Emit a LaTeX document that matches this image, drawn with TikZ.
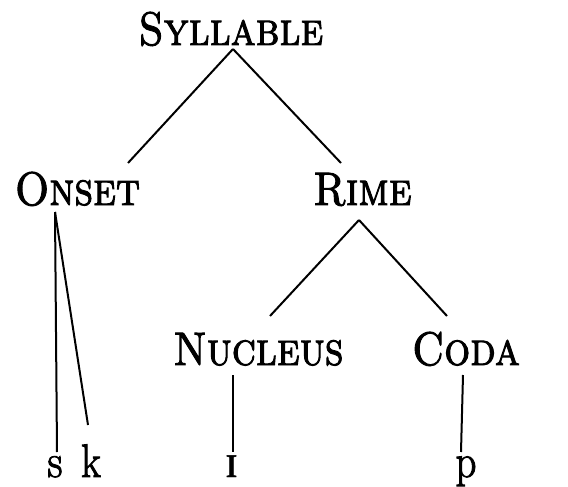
\documentclass[tikz,border=0pt]{standalone}
\usepackage{fontspec}
\setmainfont{Latin Modern Roman}[
  FakeStretch=0.87, FakeBold=2,
  SmallCapsFont={Latin Modern Roman Caps},
  SmallCapsFeatures={FakeStretch=0.87, FakeBold=2}]
\newfontfamily\ipafont{Liberation Serif}[FakeBold=1]
\usetikzlibrary{calc}
\tikzset{
  lbl/.style={anchor=base, inner sep=0pt, font=\fontsize{47}{50}\selectfont},
  branch/.style={line width=2pt, line cap=butt}
}
\begin{document}
\begin{tikzpicture}[x=1pt, y=-1pt]
  \useasboundingbox (0,0) rectangle (568,487);
  % category labels
  \node[lbl] (syl)  at (231,45)    {\textsc{Syllable}};
  \node[lbl] (ons)  at (77.5,205)  {\textsc{Onset}};
  \node[lbl] (rime) at (362.5,205) {\textsc{Rime}};
  \node[lbl] (nuc)  at (258.5,365) {\textsc{Nucleus}};
  \node[lbl] (coda) at (466,365)   {\textsc{Coda}};
  % segments
  \node[lbl] (s) at (55,477)    {s};
  \node[lbl] (k) at (91,477)    {k};
  \node[lbl] (i) at (231.5,477) {\ipafont ɪ};
  \node[lbl] (p) at (466,477)   {p};
  % branches
  \draw[branch] ($(syl.base)+(2,4)$) -- ($(ons.base)+(50.5,-42)$);
  \draw[branch] ($(syl.base)+(2,4)$) -- ($(rime.base)+(-21.5,-42)$);
  \draw[branch] ($(ons.base)+(-22.5,7)$) -- ($(s.base)+(2,-25)$);
  \draw[branch] ($(ons.base)+(-22.5,7)$) -- ($(k.base)+(-3,-52)$);
  \draw[branch] ($(rime.base)+(-3.5,15)$) -- ($(nuc.base)+(11.5,-49)$);
  \draw[branch] ($(rime.base)+(-3.5,15)$) -- ($(coda.base)+(-19,-49)$);
  \draw[branch] ($(nuc.base)+(-25.5,10)$) -- ($(i.base)+(1.5,-25)$);
  \draw[branch] ($(coda.base)+(-3,10)$) -- ($(p.base)+(-5,-25)$);
\end{tikzpicture}
\end{document}
